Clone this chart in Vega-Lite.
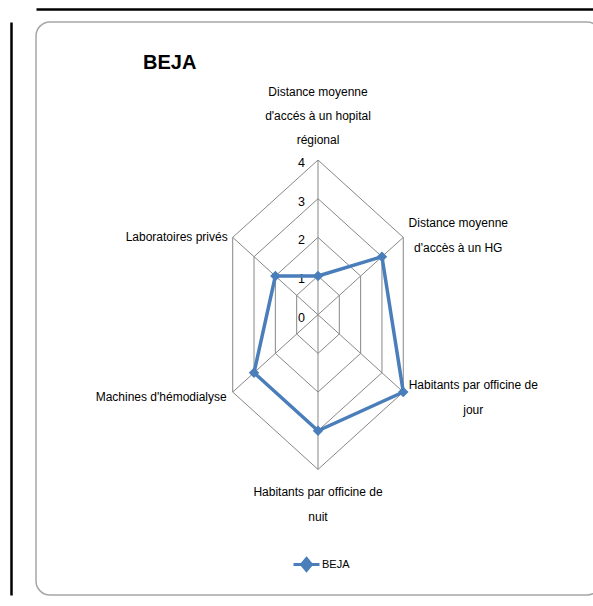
{
  "$schema": "https://vega.github.io/schema/vega-lite/v6.json",
  "width": 565,
  "height": 573,
  "autosize": {"type": "none"},
  "padding": {"left": 36, "top": 22, "right": -8, "bottom": 11},
  "background": "white",
  "config": {
    "view": {"stroke": "#A6A6A6", "strokeWidth": 1.5, "cornerRadius": 14},
    "font": "Liberation Sans",
    "text": {"font": "Liberation Sans", "fontSize": 12, "color": "#000000"}
  },
  "title": {
    "text": "BEJA",
    "anchor": "start",
    "frame": "group",
    "font": "Liberation Sans",
    "fontSize": 20,
    "fontWeight": "bold",
    "color": "#000000",
    "baseline": "alphabetic",
    "offset": 0,
    "dx": 107,
    "dy": 80
  },
  "datasets": {
    "scores": [
      {"axe": "Distance moyenne\nd'accés à un hopital\nrégional", "idx": 0, "value": 1, "series": "BEJA"},
      {"axe": "Distance moyenne\nd'accès à un HG", "idx": 1, "value": 3, "series": "BEJA"},
      {"axe": "Habitants par officine de\njour", "idx": 2, "value": 4, "series": "BEJA"},
      {"axe": "Habitants par officine de\nnuit", "idx": 3, "value": 3, "series": "BEJA"},
      {"axe": "Machines d'hémodialyse", "idx": 4, "value": 3, "series": "BEJA"},
      {"axe": "Laboratoires privés", "idx": 5, "value": 2, "series": "BEJA"}
    ],
    "grid": [
      {"level": 1, "idx": [0, 1, 2, 3, 4, 5]},
      {"level": 2, "idx": [0, 1, 2, 3, 4, 5]},
      {"level": 3, "idx": [0, 1, 2, 3, 4, 5]},
      {"level": 4, "idx": [0, 1, 2, 3, 4, 5]}
    ],
    "levels": [
      {"level": 0}, {"level": 1}, {"level": 2}, {"level": 3}, {"level": 4}
    ]
  },
  "encoding": {
    "x": {
      "field": "x", "type": "quantitative",
      "scale": {"domain": [-11.454, 11.495], "nice": false, "zero": false},
      "axis": {"orient": "top", "offset": 13, "domainColor": "#000000", "domainWidth": 2.5, "ticks": false, "labels": false, "grid": false, "title": null}
    },
    "y": {
      "field": "y", "type": "quantitative",
      "scale": {"domain": [-7.248, 7.569], "nice": false, "zero": false},
      "axis": {"orient": "left", "offset": 25, "domainColor": "#000000", "domainWidth": 2.5, "ticks": false, "labels": false, "grid": false, "title": null}
    }
  },
  "layer": [
    {
      "data": {"name": "grid"},
      "transform": [
        {"flatten": ["idx"]},
        {"calculate": "datum.level*sin(datum.idx*PI/3)", "as": "x"},
        {"calculate": "datum.level*cos(datum.idx*PI/3)", "as": "y"}
      ],
      "mark": {"type": "line", "interpolate": "linear-closed", "stroke": "#878787", "strokeWidth": 1},
      "encoding": {
        "detail": {"field": "level", "type": "nominal"},
        "order": {"field": "idx", "type": "quantitative"}
      }
    },
    {
      "data": {"name": "scores"},
      "transform": [
        {"calculate": "4*sin(datum.idx*PI/3)", "as": "x"},
        {"calculate": "4*cos(datum.idx*PI/3)", "as": "y"}
      ],
      "mark": {"type": "rule", "stroke": "#878787", "strokeWidth": 1},
      "encoding": {
        "x2": {"datum": 0},
        "y2": {"datum": 0}
      }
    },
    {
      "data": {"name": "levels"},
      "transform": [
        {"calculate": "datum.level*sin(0)", "as": "x"},
        {"calculate": "datum.level*cos(0)", "as": "y"}
      ],
      "mark": {"type": "text", "align": "right", "baseline": "middle", "dx": -13, "dy": 3, "fontSize": 12.5},
      "encoding": {
        "text": {"field": "level", "type": "nominal"}
      }
    },
    {
      "data": {"name": "scores"},
      "transform": [
        {"calculate": "datum.value*sin(datum.idx*PI/3)", "as": "x"},
        {"calculate": "datum.value*cos(datum.idx*PI/3)", "as": "y"}
      ],
      "mark": {"type": "line", "interpolate": "linear-closed", "strokeWidth": 3.5},
      "encoding": {
        "order": {"field": "idx", "type": "quantitative"},
        "color": {
          "field": "series", "type": "nominal",
          "scale": {"domain": ["BEJA"], "range": ["#4A7EBB"]},
          "legend": {
            "title": null,
            "orient": "none",
            "legendX": 256,
            "legendY": 528,
            "padding": 0,
            "symbolType": "M-1,0H1M0,-0.46L0.38,0L0,0.46L-0.38,0Z",
            "symbolSize": 676,
            "symbolStrokeWidth": 3,
            "labelFont": "Liberation Sans",
            "labelFontSize": 11,
            "labelColor": "#000000",
            "labelOffset": 1,
            "encode": {"symbols": {"update": {"fill": {"value": "#4A7EBB"}, "stroke": {"value": "#4A7EBB"}, "opacity": {"value": 1}}}}
          }
        }
      }
    },
    {
      "data": {"name": "scores"},
      "transform": [
        {"calculate": "datum.value*sin(datum.idx*PI/3)", "as": "x"},
        {"calculate": "datum.value*cos(datum.idx*PI/3)", "as": "y"}
      ],
      "mark": {"type": "point", "shape": "diamond", "filled": true, "color": "#4A7EBB", "size": 110, "opacity": 1}
    },
    {
      "data": {"name": "scores"},
      "transform": [
        {"filter": "datum.idx == 0"},
        {"calculate": "4*sin(datum.idx*PI/3)", "as": "x"},
        {"calculate": "4*cos(datum.idx*PI/3)", "as": "y"}
      ],
      "mark": {"type": "text", "align": "center", "baseline": "middle", "lineBreak": "\n", "lineHeight": 24, "dx": 0, "dy": -68},
      "encoding": {"text": {"field": "axe", "type": "nominal"}}
    },
    {
      "data": {"name": "scores"},
      "transform": [
        {"filter": "datum.idx == 1"},
        {"calculate": "4*sin(datum.idx*PI/3)", "as": "x"},
        {"calculate": "4*cos(datum.idx*PI/3)", "as": "y"}
      ],
      "mark": {"type": "text", "align": "center", "baseline": "middle", "lineBreak": "\n", "lineHeight": 25, "dx": 55, "dy": -14.5},
      "encoding": {"text": {"field": "axe", "type": "nominal"}}
    },
    {
      "data": {"name": "scores"},
      "transform": [
        {"filter": "datum.idx == 2"},
        {"calculate": "4*sin(datum.idx*PI/3)", "as": "x"},
        {"calculate": "4*cos(datum.idx*PI/3)", "as": "y"}
      ],
      "mark": {"type": "text", "align": "center", "baseline": "middle", "lineBreak": "\n", "lineHeight": 25, "dx": 70, "dy": -7.5},
      "encoding": {"text": {"field": "axe", "type": "nominal"}}
    },
    {
      "data": {"name": "scores"},
      "transform": [
        {"filter": "datum.idx == 3"},
        {"calculate": "4*sin(datum.idx*PI/3)", "as": "x"},
        {"calculate": "4*cos(datum.idx*PI/3)", "as": "y"}
      ],
      "mark": {"type": "text", "align": "center", "baseline": "middle", "lineBreak": "\n", "lineHeight": 25, "dx": 0, "dy": 23},
      "encoding": {"text": {"field": "axe", "type": "nominal"}}
    },
    {
      "data": {"name": "scores"},
      "transform": [
        {"filter": "datum.idx == 4"},
        {"calculate": "4*sin(datum.idx*PI/3)", "as": "x"},
        {"calculate": "4*cos(datum.idx*PI/3)", "as": "y"}
      ],
      "mark": {"type": "text", "align": "right", "baseline": "middle", "dx": -6, "dy": 5},
      "encoding": {"text": {"field": "axe", "type": "nominal"}}
    },
    {
      "data": {"name": "scores"},
      "transform": [
        {"filter": "datum.idx == 5"},
        {"calculate": "4*sin(datum.idx*PI/3)", "as": "x"},
        {"calculate": "4*cos(datum.idx*PI/3)", "as": "y"}
      ],
      "mark": {"type": "text", "align": "right", "baseline": "middle", "dx": -5, "dy": 0},
      "encoding": {"text": {"field": "axe", "type": "nominal"}}
    }
  ]
}
